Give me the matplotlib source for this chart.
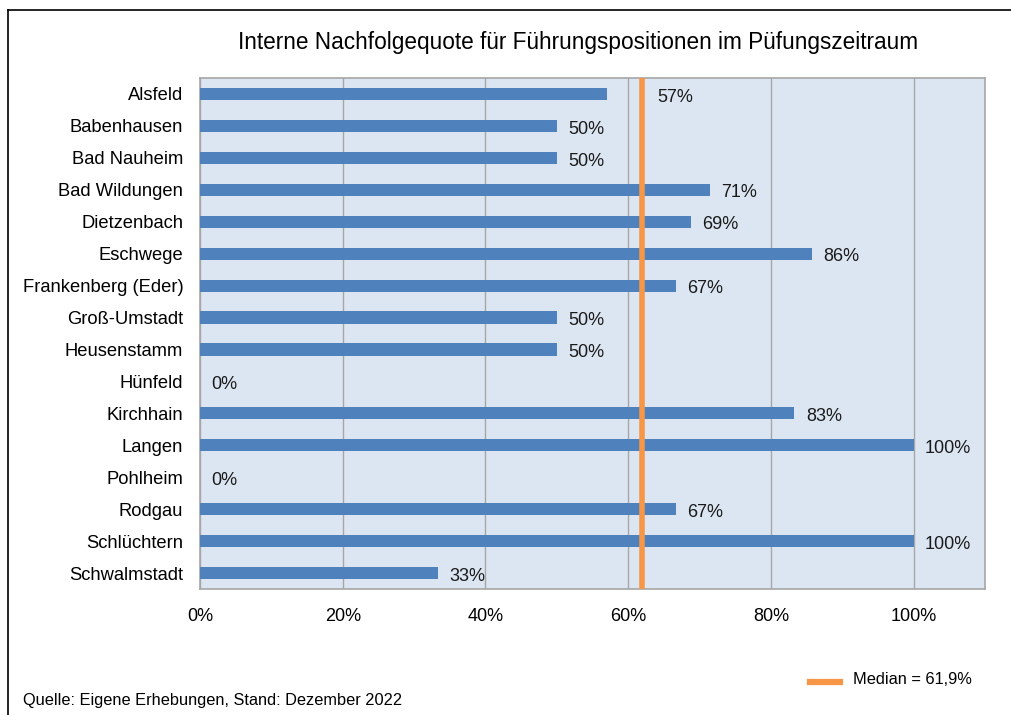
import matplotlib
matplotlib.use("Agg")
import matplotlib.pyplot as plt
from matplotlib.lines import Line2D

plt.rcParams['font.family'] = ['Liberation Sans', 'DejaVu Sans']

title = "Interne Nachfolgequote für Führungspositionen im Püfungszeitraum"
source = "Quelle: Eigene Erhebungen, Stand: Dezember 2022"

towns = ["Alsfeld", "Babenhausen", "Bad Nauheim", "Bad Wildungen", "Dietzenbach",
         "Eschwege", "Frankenberg (Eder)", "Groß-Umstadt", "Heusenstamm", "Hünfeld",
         "Kirchhain", "Langen", "Pohlheim", "Rodgau", "Schlüchtern", "Schwalmstadt"]
quote = [57.1, 50.0, 50.0, 71.4, 68.8, 85.7, 66.7, 50.0, 50.0, 0.0,
         83.3, 100.0, 0.0, 66.7, 100.0, 33.3]
median = 61.9
x_ticks = [0, 20, 40, 60, 80, 100]

bar_color = "#4F81BD"
median_color = "#F79646"
grid_color = "#A6A6A6"

fig = plt.figure(figsize=(10.12, 7.15), dpi=100)
ax = fig.add_axes([200 / 1012, 126 / 715, 785 / 1012, 511 / 715])
ax.set_facecolor("#DCE6F2")

ypos = list(range(len(towns)))
ax.barh(ypos, quote, height=0.38, color=bar_color, linewidth=0, zorder=3)
ax.axvline(median, color=median_color, linewidth=4, zorder=4)

ax.set_xlim(0, 110)
ax.set_ylim(len(towns) - 0.5, -0.5)
ax.set_xticks(x_ticks)
ax.set_xticklabels([f"{t}%" for t in x_ticks], fontsize=13)
ax.set_yticks(ypos)
ax.set_yticklabels(towns, fontsize=13.2)
ax.tick_params(axis="both", length=0)
ax.tick_params(axis="x", pad=14)
ax.tick_params(axis="y", pad=12)
ax.xaxis.grid(True, color=grid_color, linewidth=1, zorder=1)
ax.set_axisbelow(True)
for sp in ax.spines.values():
    sp.set_color(grid_color)
    sp.set_linewidth(1.2)

# value labels; a label that would sit on the median line moves past it
for y, v in zip(ypos, quote):
    x_lab = v + 1.6
    if v < median and x_lab + 5 > median - 1:
        x_lab = median + 2.2
    ax.text(x_lab, y + 0.1, f"{v:.0f}%", fontsize=13, va="center", ha="left",
            color="#1a1a1a", zorder=5)

fig.text(578 / 1012, 1 - 42 / 715, title, fontsize=16.3, ha="center", va="center")
fig.text(23 / 1012, 1 - 700 / 715, source, fontsize=11.8, ha="left", va="center")

# legend for the median line
fig.add_artist(Line2D([810 / 1012, 840 / 1012], [1 - 682 / 715] * 2,
                      color=median_color, linewidth=4.5, transform=fig.transFigure))
fig.text(853 / 1012, 1 - 680 / 715, "Median = 61,9%", fontsize=11.8,
         ha="left", va="center")

# outer frame (top and left edges)
fig.add_artist(Line2D([8 / 1012, 1.0], [1 - 10 / 715] * 2, color="black",
                      linewidth=1.2, transform=fig.transFigure))
fig.add_artist(Line2D([8 / 1012] * 2, [0.0, 1 - 10 / 715], color="black",
                      linewidth=1.2, transform=fig.transFigure))

fig.savefig("out.png", dpi=100)
